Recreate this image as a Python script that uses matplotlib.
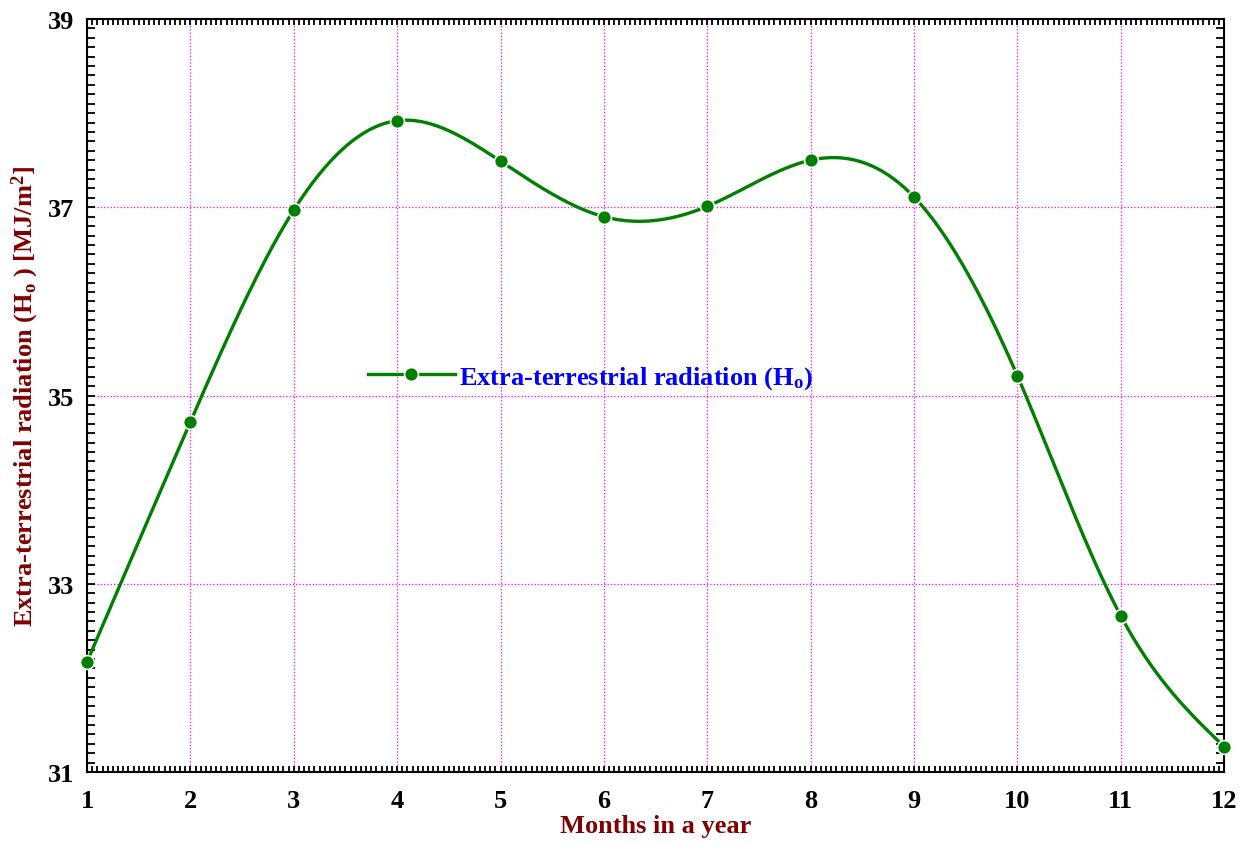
import numpy as np
import matplotlib
matplotlib.use("Agg")
import matplotlib.pyplot as plt
from matplotlib.ticker import MultipleLocator, FixedLocator

plt.rcParams['font.family'] = ['Liberation Serif', 'DejaVu Serif']
plt.rcParams['font.weight'] = 'bold'
plt.rcParams['mathtext.fontset'] = 'custom'
plt.rcParams['mathtext.rm'] = 'Liberation Serif:bold'
plt.rcParams['mathtext.it'] = 'Liberation Serif:bold'
plt.rcParams['mathtext.bf'] = 'Liberation Serif:bold'

months = [1, 2, 3, 4, 5, 6, 7, 8, 9, 10, 11, 12]
radiation = [32.17, 34.72, 36.97, 37.92, 37.49, 36.90, 37.01, 37.50, 37.11, 35.21, 32.66, 31.27]
y_ticks = [31, 33, 35, 37, 39]


def natural_spline(x, y, n=400):
    # natural cubic spline through the points, just for drawing the smooth line
    x = np.asarray(x, float)
    y = np.asarray(y, float)
    k = len(x)
    h = np.diff(x)
    A = np.zeros((k, k))
    b = np.zeros(k)
    A[0, 0] = 1
    A[-1, -1] = 1
    for i in range(1, k - 1):
        A[i, i - 1] = h[i - 1]
        A[i, i] = 2 * (h[i - 1] + h[i])
        A[i, i + 1] = h[i]
        b[i] = 3 * ((y[i + 1] - y[i]) / h[i] - (y[i] - y[i - 1]) / h[i - 1])
    c = np.linalg.solve(A, b)
    xx = np.linspace(x[0], x[-1], n)
    yy = np.empty_like(xx)
    for j, xv in enumerate(xx):
        i = min(np.searchsorted(x, xv, side='right') - 1, k - 2)
        bi = (y[i + 1] - y[i]) / h[i] - h[i] * (c[i + 1] + 2 * c[i]) / 3
        di = (c[i + 1] - c[i]) / (3 * h[i])
        t = xv - x[i]
        yy[j] = y[i] + bi * t + c[i] * t**2 + di * t**3
    return xx, yy


fig = plt.figure(figsize=(12.45, 8.45), dpi=100)
ax = fig.add_axes([0.0699, 0.0852, 0.9133, 0.8911])

green = '#007F00'
xx, yy = natural_spline(months, radiation)
ax.plot(xx, yy, color=green, lw=2.4, zorder=3)
ax.plot(months, radiation, 'o', color=green, ms=10, mec='white', mew=1.2,
        zorder=4, clip_on=False)
# legend proxy
ax.plot([], [], '-o', color=green, lw=2.4, ms=10, mec='white', mew=1.2,
        label=r'Extra-terrestrial radiation ($\mathrm{H_o}$)')

ax.set_xlim(1, 12)
ax.set_ylim(31, 39)
ax.xaxis.set_major_locator(MultipleLocator(1))
ax.xaxis.set_minor_locator(MultipleLocator(0.05))
ax.yaxis.set_major_locator(FixedLocator(y_ticks))
ax.yaxis.set_minor_locator(MultipleLocator(0.1))

ax.grid(True, which='major', color='#FF00FF', ls=':', lw=0.9)
ax.tick_params(which='both', direction='in', top=True, right=True,
               labelsize=19, width=1.3)
ax.tick_params(axis='x', which='major', length=4, pad=12)
ax.tick_params(axis='x', which='minor', length=4)
ax.tick_params(axis='y', which='major', length=6, pad=9)
ax.tick_params(axis='y', which='minor', length=6)
for s in ax.spines.values():
    s.set_linewidth(1.5)

ax.set_xlabel('Months in a year', color='#800000', fontsize=19,
              fontweight='bold', labelpad=2)
ax.set_ylabel(r'Extra-terrestrial radiation ($\mathrm{H_o}$ ) [MJ/m$^2$]',
              color='#800000', fontsize=19, fontweight='bold', labelpad=5)

leg = ax.legend(loc='center left', bbox_to_anchor=(0.247, 0.524), frameon=False,
                fontsize=19, handlelength=3.3, handletextpad=0.15, borderpad=0,
                borderaxespad=0)
for t in leg.get_texts():
    t.set_color('#0000FF')

fig.savefig('out.png', dpi=100)
